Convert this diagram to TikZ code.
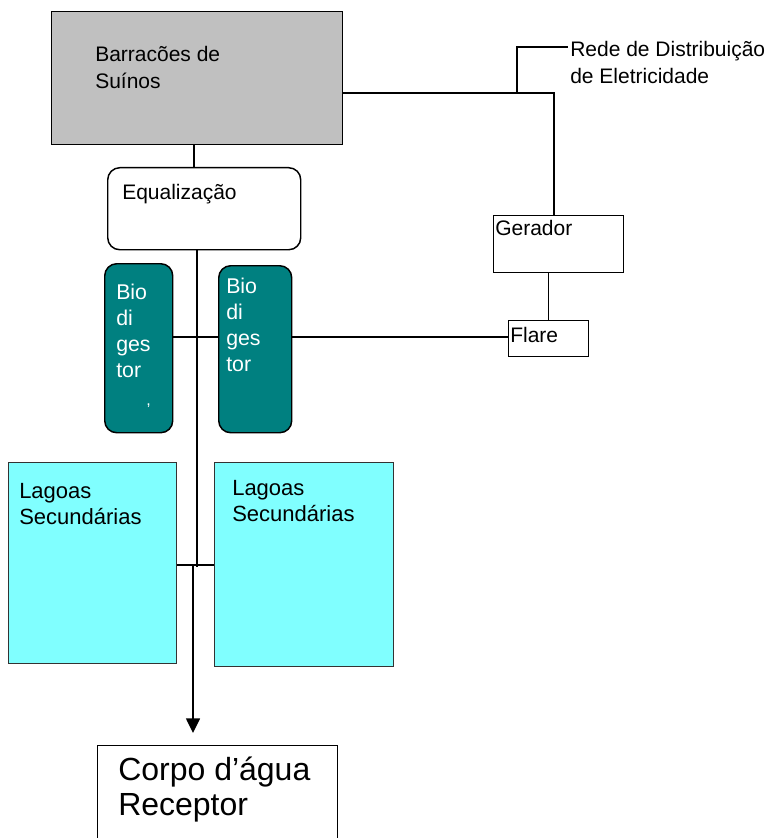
\documentclass[tikz,border=0pt]{standalone}
\usepackage{fontspec}
\setmainfont{Liberation Sans}
\usetikzlibrary{arrows.meta,positioning}

\definecolor{shedgray}{HTML}{C0C0C0}
\definecolor{tankteal}{HTML}{008080}
\definecolor{pondcyan}{HTML}{80FFFF}

\begin{document}
\begin{tikzpicture}[
    x=0.75pt, y=-0.75pt,
    wire/.style={draw=black, line width=1.1pt},
    shed/.style={rectangle, draw=black, line width=1.1pt, fill=shedgray, anchor=north west, inner sep=0pt},
    rbox/.style={rectangle, rounded corners=9pt, draw=black, line width=1.1pt, fill=white, anchor=north west, inner sep=0pt},
    tank/.style={rectangle, rounded corners=9pt, draw=black, line width=1.1pt, fill=tankteal, anchor=north west, inner sep=0pt},
    pond/.style={rectangle, draw=black!80, line width=1.1pt, fill=pondcyan, anchor=north west, inner sep=0pt},
    plain/.style={rectangle, draw=black, line width=1.1pt, fill=white, anchor=north west, inner sep=0pt},
    lbl/.style={anchor=north west, inner sep=0pt, align=left, font=\fontsize{15.75}{20.25}\selectfont},
    flow/.style={-{Triangle[length=11pt, width=10.5pt]}, line width=1.1pt, shorten >=9pt}
]
\clip (0,0) rectangle (777,838);

% boxes
\node[shed, minimum width=218.25pt, minimum height=99.75pt] (barr) at (51,11) {};
\node[rbox, minimum width=144.75pt, minimum height=61.5pt] (equal) at (107,167) {};
\node[tank, minimum width=51pt, minimum height=126.75pt] (bio1) at (104,263) {};
\node[tank, minimum width=54.75pt, minimum height=125.25pt] (bio2) at (218,265) {};
\node[plain, minimum width=97.5pt, minimum height=42.75pt] (gen) at (493,215) {};
\node[plain, minimum width=60pt, minimum height=27pt] (flare) at (508,320) {};
\node[pond, minimum width=126pt, minimum height=150.75pt] (lag1) at (8,462) {};
\node[pond, minimum width=134.25pt, minimum height=153pt] (lag2) at (214,462) {};
\node[plain, minimum width=180pt, minimum height=90pt] (recv) at (97,745) {};

% texts
\node[lbl] (barrtxt) at (95,46) {Barracões de\\Suínos};
\node[lbl] (equaltxt) at (122,184) {Equalização};
\node[lbl, text=white, font=\fontsize{16}{19.5}\selectfont] (bio1txt) at (116,284) {Bio\\di\\ges\\tor};
\node[lbl, text=white, font=\fontsize{16}{19.5}\selectfont] (bio2txt) at (226,278) {Bio\\di\\ges\\tor};
\node[lbl, text=white, font=\fontsize{12}{12}\selectfont] (mark) at (146,404) {,};
\node[lbl] (gentxt) at (495,220) {Gerador};
\node[lbl] (flaretxt) at (510,327) {Flare};
\node[lbl] (rede) at (570,41) {Rede de Distribuição\\de Eletricidade};
\node[lbl, font=\fontsize{16.5}{19.5}\selectfont] (lag1txt) at (19,483) {Lagoas\\Secundárias};
\node[lbl, font=\fontsize{16.5}{19.5}\selectfont] (lag2txt) at (232,480) {Lagoas\\Secundárias};
\node[lbl, font=\fontsize{24}{26.25}\selectfont] (recvtxt) at (118,757) {Corpo d’água\\Receptor};

% junctions
\coordinate (elec) at (554,93);
\coordinate (tap) at (517,93);
\coordinate (rede1) at (568,47);
\coordinate (bioy) at (0,337);
\coordinate (j1) at (197,567);
\coordinate (j2) at (193,565);

% connectors
\draw[wire] ([xshift=-2.6pt]barr.south) -- ([xshift=-2.6pt]barr.south |- equal.north);
\draw[wire] (equal.south -| j1) -- (j1);
\draw[wire] (bio1.east |- bioy) -- (bio2.west |- bioy);
\draw[wire] (bio2.east |- bioy) -- (flare.west |- bioy);
\draw[wire] (barr.east |- elec) -- (elec) -- (elec |- gen.north);
\draw[wire] (tap) |- (rede1);
\draw[wire] (flare.north |- gen.south) -- (flare.north);
\draw[wire] (lag1.east |- j2) -- (lag2.west |- j2);
\draw[flow] (j2) -- (j2 |- recv.north);
\end{tikzpicture}
\end{document}
